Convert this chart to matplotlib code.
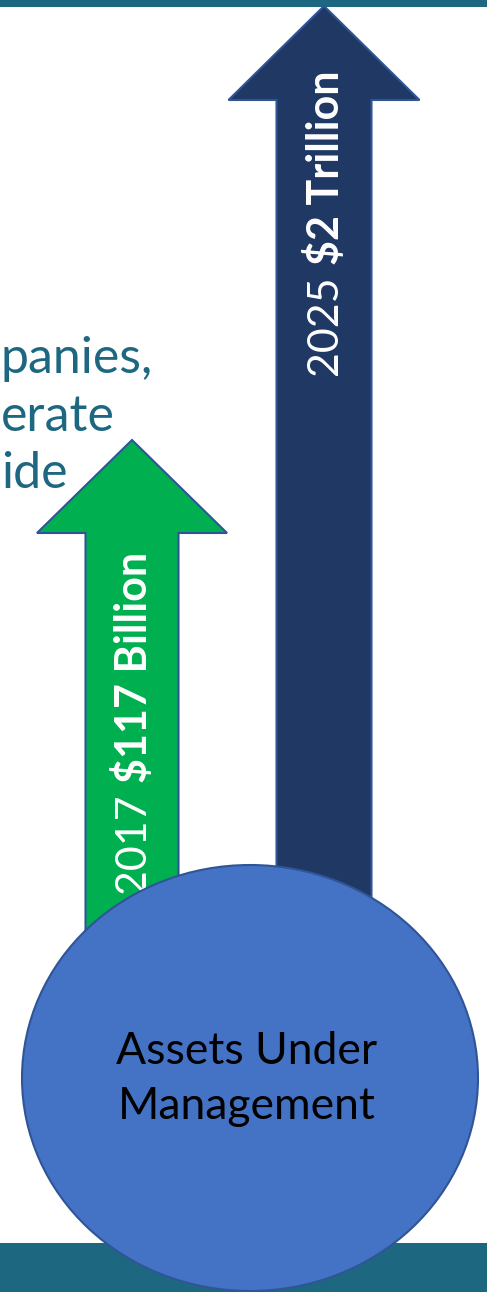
import matplotlib
matplotlib.use("Agg")
import matplotlib.pyplot as plt
from matplotlib.patches import Polygon, Ellipse, Rectangle

# ---- data ----
years = ["2017", "2025"]
amounts = ["$117 Billion", "$2 Trillion"]
arrow_colors = ["#00B050", "#203864"]
center_lines = ["Assets Under", "Management"]
side_text = ["panies,", "erate", "ide"]

W, H = 487, 1292
DPI = 100
FONT = "Lato"
TEAL = "#1D6880"
EDGE = "#2F5597"

fig = plt.figure(figsize=(W / DPI, H / DPI), dpi=DPI)
ax = fig.add_axes([0, 0, 1, 1])
ax.set_xlim(0, W)
ax.set_ylim(H, 0)
ax.axis("off")
renderer = fig.canvas.get_renderer()

def text_len(t, rotated=False):
    bb = t.get_window_extent(renderer=renderer)
    return bb.height if rotated else bb.width

# bars top / bottom
ax.add_patch(Rectangle((0, 0), W, 7, facecolor=TEAL, edgecolor="none", zorder=0))
ax.add_patch(Rectangle((0, 1243), W, H - 1243, facecolor=TEAL, edgecolor="none", zorder=0))

# side text fragments along the left edge
side_base = [373, 431, 488]
for s, yb in zip(side_text, side_base):
    ax.text(1, yb, s, ha="left", va="baseline", fontsize=36, color=TEAL,
            family=FONT, zorder=1)

# arrows: (tip_x, tip_y, head_half, head_base_y, shaft_half, bottom_y)
geom = [
    (132, 440, 95, 533, 46.5, 1000),
    (324, 6, 95.5, 100, 47.5, 1000),
]
text_start = [893, 375]
for (cx, ty, hh, hb, sh, by), col in zip(geom, arrow_colors):
    pts = [(cx, ty), (cx + hh, hb), (cx + sh, hb), (cx + sh, by),
           (cx - sh, by), (cx - sh, hb), (cx - hh, hb)]
    ax.add_patch(Polygon(pts, closed=True, facecolor=col, edgecolor=EDGE,
                         linewidth=1.5, zorder=1))

# rotated labels: regular year + bold amount
fs = 31
for (cx, ty, hh, hb, sh, by), yr, amt, y0 in zip(geom, years, amounts, text_start):
    t1 = ax.text(cx + 1, y0, yr, rotation=90, rotation_mode="anchor", ha="left",
                 va="center", fontsize=fs, color="white", family=FONT, zorder=1.5)
    L1 = text_len(t1, rotated=True)
    gap = fs * DPI / 72 * 0.25
    ax.text(cx + 1, y0 - L1 - gap, amt, rotation=90, rotation_mode="anchor", ha="left",
            va="center", fontsize=fs, color="white", family=FONT,
            fontweight="bold", zorder=1.5)

# circle
ax.add_patch(Ellipse((250, 1078), 456, 426, facecolor="#4472C4", edgecolor=EDGE,
                     linewidth=1.5, zorder=2))
for s, yb in zip(center_lines, [1064, 1119]):
    ax.text(247, yb, s, ha="center", va="baseline", fontsize=32,
            color="black", family=FONT, zorder=3)

fig.savefig("out.png", dpi=DPI)
